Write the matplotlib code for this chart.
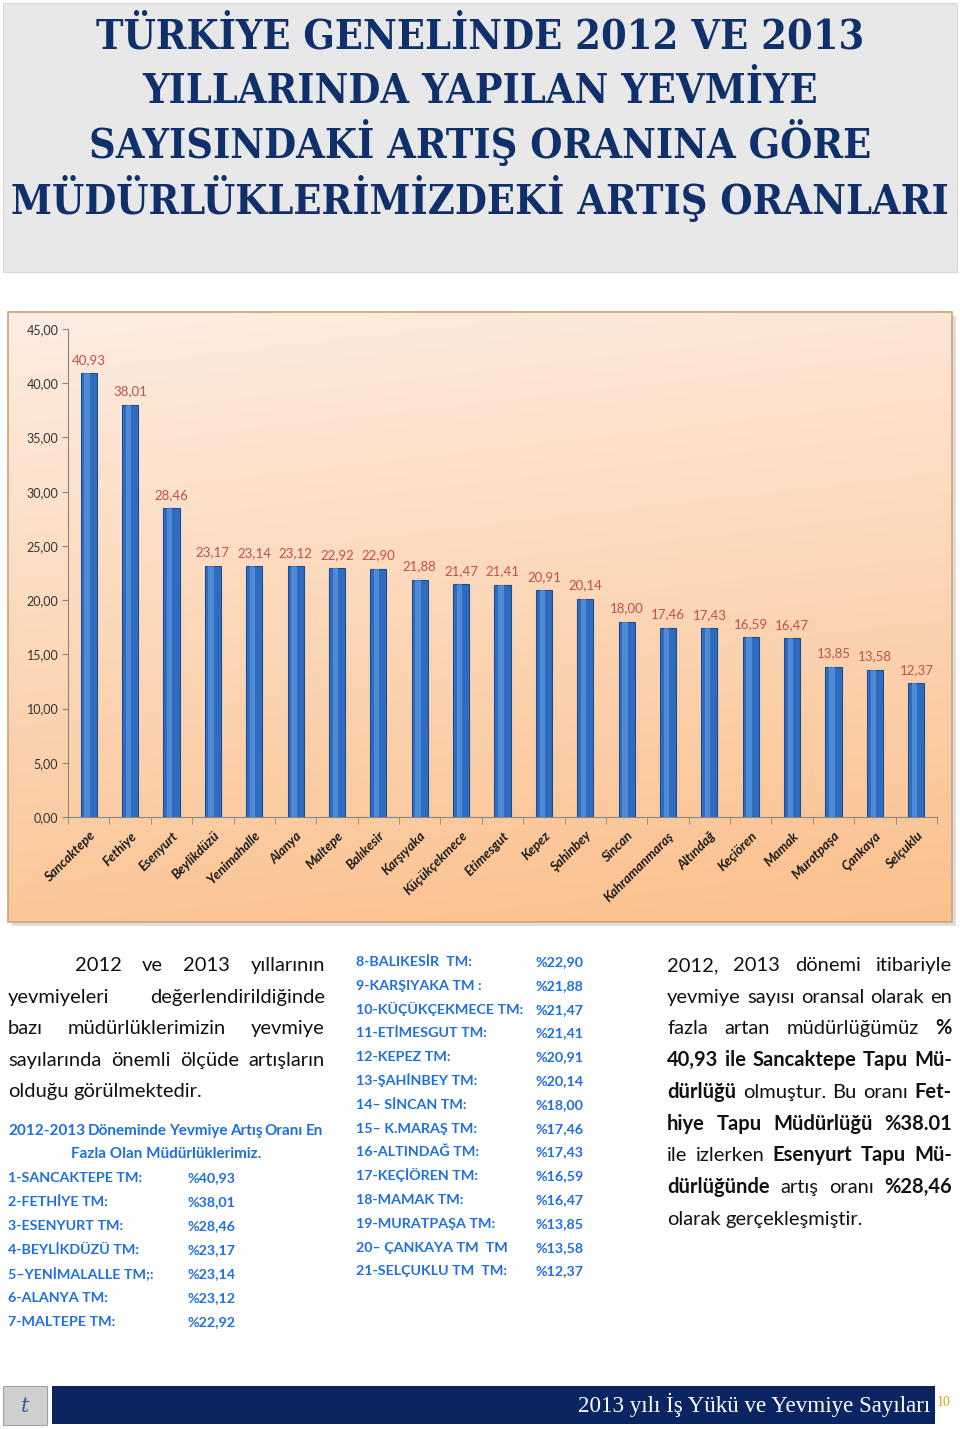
import numpy as np
import matplotlib.pyplot as plt
from matplotlib.patches import Rectangle
from matplotlib import font_manager as fm

W, H = 960, 1429

# chart data
mudurlukler = ['Sancaktepe', 'Fethiye', 'Esenyurt', 'Beylikdüzü', 'Yenimahalle', 'Alanya',
               'Maltepe', 'Balıkesir', 'Karşıyaka', 'Küçükçekmece', 'Etimesgut', 'Kepez',
               'Şahinbey', 'Sincan', 'Kahramanmaraş', 'Altındağ', 'Keçiören', 'Mamak',
               'Muratpaşa', 'Çankaya', 'Selçuklu']
artis = [40.93, 38.01, 28.46, 23.17, 23.14, 23.12, 22.92, 22.90, 21.88, 21.47, 21.41,
         20.91, 20.14, 18.00, 17.46, 17.43, 16.59, 16.47, 13.85, 13.58, 12.37]
y_ticks = [0, 5, 10, 15, 20, 25, 30, 35, 40, 45]

# list under the chart (labels as written in the document)
liste_adlari = ['1-SANCAKTEPE TM:', '2-FETHİYE TM:', '3-ESENYURT TM:', '4-BEYLİKDÜZÜ TM:',
                '5–YENİMALALLE TM;:', '6-ALANYA TM:', '7-MALTEPE TM:', '8-BALIKESİR  TM:',
                '9-KARŞIYAKA TM :', '10-KÜÇÜKÇEKMECE TM:', '11-ETİMESGUT TM:', '12-KEPEZ TM:',
                '13-ŞAHİNBEY TM:', '14– SİNCAN TM:', '15– K.MARAŞ TM:', '16-ALTINDAĞ TM:',
                '17-KEÇİÖREN TM:', '18-MAMAK TM:', '19-MURATPAŞA TM:', '20– ÇANKAYA TM  TM',
                '21-SELÇUKLU TM  TM:']

baslik = ['TÜRKİYE GENELİNDE 2012 VE 2013',
          'YILLARINDA YAPILAN YEVMİYE',
          'SAYISINDAKİ ARTIŞ ORANINA GÖRE',
          'MÜDÜRLÜKLERİMİZDEKİ ARTIŞ ORANLARI']

paragraf1 = ['2012 ve 2013 yıllarının',
             'yevmiyeleri değerlendirildiğinde',
             'bazı müdürlüklerimizin yevmiye',
             'sayılarında önemli ölçüde artışların',
             'olduğu görülmektedir.']

# (text, bold) pieces for the right column
paragraf3 = [
    [('2012,', 0), ('2013', 0), ('dönemi', 0), ('itibariyle', 0)],
    [('yevmiye', 0), ('sayısı', 0), ('oransal', 0), ('olarak', 0), ('en', 0)],
    [('fazla', 0), ('artan', 0), ('müdürlüğümüz', 0), ('%', 1)],
    [('40,93', 1), ('ile', 1), ('Sancaktepe', 1), ('Tapu', 1), ('Mü-', 1)],
    [('dürlüğü', 1), ('olmuştur.', 0), ('Bu', 0), ('oranı', 0), ('Fet-', 1)],
    [('hiye', 1), ('Tapu', 1), ('Müdürlüğü', 1), ('%38.01', 1)],
    [('ile', 0), ('izlerken', 0), ('Esenyurt', 1), ('Tapu', 1), ('Mü-', 1)],
    [('dürlüğünde', 1), ('artış', 0), ('oranı', 0), ('%28,46', 1)],
    [('olarak', 0), ('gerçekleşmiştir.', 0)],
]

GOVDE = ['Lato', 'DejaVu Sans']
LACI = '#10306b'
MAVI = '#1f6fdc'


def dar_font():
    # a condensed bold face for the title, if one is installed
    aday = []
    for f in fm.fontManager.ttflist:
        w = f.weight if isinstance(f.weight, int) else {'bold': 700}.get(f.weight, 400)
        if 'condensed' in str(f.stretch) or 'Narrow' in f.name:
            if w >= 600:
                aday.append((0 if 'Serif' in f.name else 1, f.fname))
    if aday:
        return fm.FontProperties(fname=sorted(aday)[0][1])
    return fm.FontProperties(family='DejaVu Serif', weight='bold')


fig = plt.figure(figsize=(W / 100, H / 100), dpi=100)
page = fig.add_axes([0, 0, 1, 1])
page.set_xlim(0, W)
page.set_ylim(H, 0)
page.axis('off')
r = fig.canvas.get_renderer()

# title box
page.add_patch(Rectangle((3, 3), 954, 269, facecolor='#e8e8e8', edgecolor='#d8d8d8', lw=0.8))
fp = dar_font()
tt = [page.text(480, 0, s, fontproperties=fp, fontsize=30, color=LACI, ha='center', va='baseline')
      for s in baslik]
boy = 30 * 938 / tt[3].get_window_extent(r).width
for t, yb in zip(tt, [48, 103, 158, 214]):
    t.set_fontsize(boy)
    t.set_y(yb)

# chart frame with gradient
page.add_patch(Rectangle((12, 316), 944, 610, facecolor='#c9c9c9', edgecolor='none', alpha=0.6))
u = np.linspace(0, 1, 200)[None, :]
v = np.linspace(0, 1, 300)[:, None]
t = np.clip(0.85 * v + 0.15 * u, 0, 1)[..., None]
c1 = np.array([253, 237, 226]) / 255
c2 = np.array([251, 192, 140]) / 255
page.imshow(c1 + (c2 - c1) * t, extent=[8, 952, 922, 312], aspect='auto', zorder=1)
page.add_patch(Rectangle((8, 312), 944, 610, facecolor='none', edgecolor='#d2a275', lw=1.2, zorder=2))
page.set_xlim(0, W)
page.set_ylim(H, 0)

ax = fig.add_axes([68 / W, 1 - 817 / H, 869 / W, 488 / H])
ax.patch.set_alpha(0)
x = np.arange(len(artis))
ax.bar(x, artis, width=0.39, color='#2f6cc0', edgecolor='#1d4c8f', linewidth=0.8, zorder=3)
ax.bar(x - 0.04, artis, width=0.13, color='#6aa3ea', linewidth=0, alpha=0.55, zorder=4)
for xi, val in zip(x, artis):
    ax.annotate(f'{val:.2f}'.replace('.', ','), (xi, val), xytext=(0, 9.5), textcoords='offset points',
                ha='center', va='center', fontsize=9.5, color='#c0504d', family=GOVDE)
ax.set_xlim(-0.5, len(artis) - 0.5)
ax.set_ylim(0, 45)
ax.set_yticks(y_ticks)
ax.set_yticklabels([f'{v:.2f}'.replace('.', ',') for v in y_ticks])
ax.set_xticks(x)
ax.set_xticklabels(mudurlukler, rotation=45, ha='right', va='top', rotation_mode='anchor',
                   fontsize=9.5, fontweight='bold', style='italic', family=GOVDE, color='#1a1a1a')
ax.set_xticks(np.arange(-0.5, len(artis)), minor=True)
ax.tick_params(axis='x', which='major', length=0, pad=9)
ax.tick_params(axis='x', which='minor', length=5, color='#868686')
ax.tick_params(axis='y', length=4, color='#868686', labelsize=9, labelcolor='#333333', pad=3)
for lbl in ax.get_yticklabels():
    lbl.set_family(GOVDE)
for s in ['top', 'right']:
    ax.spines[s].set_visible(False)
for s in ['left', 'bottom']:
    ax.spines[s].set_color('#868686')


def bosluk_gen(boyut):
    a = page.text(0, 0, 'x x', fontsize=boyut, family=GOVDE)
    b = page.text(0, 0, 'xx', fontsize=boyut, family=GOVDE)
    g = a.get_window_extent(r).width - b.get_window_extent(r).width
    a.remove()
    b.remove()
    return g


def satir(x0, x1, y, parcalar, boyut, renk, yasla=True):
    nes = [page.text(0, y, k, fontsize=boyut, fontweight='bold' if kl else 'normal',
                     color=renk, family=GOVDE, ha='left', va='baseline') for k, kl in parcalar]
    gen = [n.get_window_extent(r).width for n in nes]
    if yasla and len(nes) > 1:
        bos = (x1 - x0 - sum(gen)) / (len(nes) - 1)
    else:
        bos = bosluk_gen(boyut)
    xx = x0
    for n, g in zip(nes, gen):
        n.set_x(xx)
        xx += g + bos


# left paragraph
FS = 14.5
for i, s in enumerate(paragraf1):
    x0 = 75 if i == 0 else 8
    satir(x0, 325, 971 + 31.6 * i, [(w, 0) for w in s.split()], FS, '#111111', yasla=i < 4)

# blue list heading
satir(8, 323, 1135, [(w, 1) for w in '2012-2013 Döneminde Yevmiye Artış Oranı En'.split()], 11, MAVI)
page.text(166, 1158, 'Fazla Olan Müdürlüklerimiz.', fontsize=11, fontweight='bold', color=MAVI,
          family=GOVDE, ha='center', va='baseline')

for i, (ad, val) in enumerate(zip(liste_adlari, artis)):
    deger = '%' + f'{val:.2f}'.replace('.', ',')
    if i < 7:
        xa, xd, yb = 8, 187, 1182.5 + 23.9 * i
    else:
        xa, xd, yb = 356, 536, 966 + 23.8 * (i - 7)
    page.text(xa, yb, ad, fontsize=10.3, fontweight='bold', color=MAVI, family=GOVDE,
              ha='left', va='baseline')
    page.text(xd, yb, deger, fontsize=10.3, fontweight='bold', color=MAVI, family=GOVDE,
              ha='left', va='baseline')

# right paragraph
for i, parca in enumerate(paragraf3):
    satir(667, 952, 971 + 31.7 * i, parca, FS, '#111111', yasla=i < len(paragraf3) - 1)

# footer
page.add_patch(Rectangle((3, 1386), 44, 39, facecolor='#cfcfcf', edgecolor='#a0a0a0', lw=0.8))
page.text(25, 1406, 't', fontsize=15, style='italic', color='#2d5aa8', family='DejaVu Serif',
          ha='center', va='center')
page.add_patch(Rectangle((52, 1386), 883, 38, facecolor='#0b2462', edgecolor='none'))
page.text(930, 1412, '2013 yılı İş Yükü ve Yevmiye Sayıları', fontsize=16.6, color='white',
          family=['Liberation Serif', 'DejaVu Serif'], ha='right', va='baseline')
page.text(944, 1403, '10', fontsize=10, color='#e3a21a', family=['Liberation Serif', 'DejaVu Serif'],
          ha='center', va='center')

fig.savefig('out.png', dpi=100)
